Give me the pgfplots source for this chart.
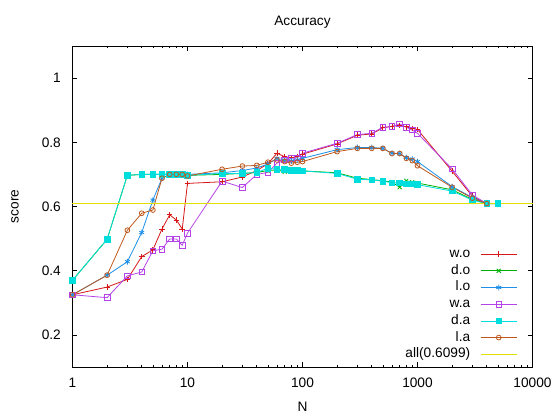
\documentclass[border=0pt]{standalone}
\usepackage{fontspec}
\setmainfont{Liberation Sans}
\usepackage{pgfplots}
\pgfplotsset{compat=1.18}
\definecolor{cwo}{RGB}{214,24,24}
\definecolor{cdo}{RGB}{0,176,0}
\definecolor{clo}{RGB}{30,144,232}
\definecolor{cwa}{RGB}{180,68,232}
\definecolor{cda}{RGB}{0,221,221}
\definecolor{cla}{RGB}{192,88,28}
\definecolor{call}{RGB}{224,224,0}
\begin{document}
\fontsize{13.7bp}{16bp}\selectfont
\begin{tikzpicture}
\useasboundingbox (-72.5bp,-47bp) rectangle (482.5bp,367bp);
\begin{axis}[
  at={(0,0)}, anchor=south west,
  width=460bp, height=321bp, scale only axis,
  xmode=log, xmin=1, xmax=10000, ymin=0.1, ymax=1.1,
  log basis x=10,
  xtick={1,10,100,1000,10000}, xticklabels={1,10,100,1000,10000},
  minor xtick={2,3,4,5,6,7,8,9,20,30,40,50,60,70,80,90,200,300,400,500,600,700,800,900,2000,3000,4000,5000,6000,7000,8000,9000},
  ytick={0.2,0.4,0.6,0.8,1}, yticklabels={0.2,0.4,0.6,0.8,1},
  tick align=inside, xtick pos=both, ytick pos=both,
  major tick length=5bp, minor tick length=2.5bp,
  tick style={black, line width=0.6bp},
  axis line style={black, line width=0.8bp},
  /pgf/number format/assume math mode=true,
  yticklabel style={anchor=east, inner sep=0pt, xshift=-11.5bp},
  xticklabel style={anchor=center, inner sep=0pt, yshift=-16bp},
  title=Accuracy,
  title style={at={(axis description cs:0.5,1)}, anchor=center, yshift=18bp},
  xlabel=N,
  xlabel style={at={(axis description cs:0.5,0)}, anchor=center, yshift=-40bp},
  ylabel=score,
  ylabel style={at={(axis description cs:-0.125,0.5)}, anchor=center},
  clip=false,
  every axis plot/.append style={line width=0.8bp, mark size=2.8bp},
  every mark/.append style={solid},
  legend plot pos=right,
  legend cell align=right,
  legend image code/.code={\draw[mark repeat=2,mark phase=2] plot coordinates {(0cm,0cm) (0.635cm,0cm) (1.27cm,0cm)};},
  legend style={draw=none, fill=none, inner sep=0pt, at={(axis description cs:1,0)}, anchor=south east,
    xshift=-15bp, yshift=6.15bp, row sep=4bp, column sep=10bp,
    nodes={inner sep=0pt, text height=9.8bp, text depth=2.9bp},
    cells={anchor=east}},
]
\addplot[cwo, mark=+] table {
1 0.325
2 0.349
3 0.373
4 0.444
5 0.465
6 0.530
7 0.574
8 0.558
9 0.530
10 0.672
20 0.677
30 0.692
40 0.712
50 0.733
60 0.766
70 0.755
80 0.752
90 0.755
100 0.763
200 0.795
300 0.822
400 0.826
500 0.845
600 0.850
700 0.852
800 0.848
900 0.843
1000 0.840
2000 0.710
3000 0.632
4000 0.609
};
\addlegendentry{w.o}
\addplot[cdo, mark=x] table {
1 0.370
2 0.498
3 0.697
4 0.700
5 0.700
6 0.700
7 0.700
8 0.700
9 0.700
10 0.697
20 0.700
30 0.703
40 0.706
50 0.712
60 0.714
70 0.708
80 0.710
90 0.712
100 0.711
200 0.705
300 0.688
400 0.684
500 0.680
600 0.676
700 0.660
800 0.680
900 0.676
1000 0.673
2000 0.652
3000 0.622
4000 0.609
5000 0.609
};
\addlegendentry{d.o}
\addplot[clo, mark=asterisk] table {
1 0.325
2 0.386
3 0.428
4 0.519
5 0.620
6 0.688
7 0.700
8 0.700
9 0.700
10 0.700
20 0.705
30 0.712
40 0.720
50 0.732
60 0.750
70 0.745
80 0.742
90 0.745
100 0.750
200 0.777
300 0.784
400 0.784
500 0.781
600 0.766
700 0.765
800 0.752
900 0.748
1000 0.740
2000 0.662
3000 0.628
4000 0.609
};
\addlegendentry{l.o}
\addplot[cwa, mark=square] table {
1 0.325
2 0.316
3 0.384
4 0.396
5 0.462
6 0.467
7 0.499
8 0.499
9 0.479
10 0.517
20 0.679
30 0.659
40 0.700
50 0.706
60 0.735
70 0.745
80 0.750
90 0.752
100 0.766
200 0.797
300 0.824
400 0.828
500 0.847
600 0.849
700 0.857
800 0.847
900 0.838
1000 0.828
2000 0.717
3000 0.636
4000 0.609
};
\addlegendentry{w.a}
\addplot[cda, mark=square*] table {
1 0.370
2 0.498
3 0.697
4 0.700
5 0.700
6 0.700
7 0.700
8 0.700
9 0.700
10 0.697
20 0.703
30 0.703
40 0.706
50 0.719
60 0.716
70 0.716
80 0.712
90 0.712
100 0.711
200 0.703
300 0.685
400 0.683
500 0.679
600 0.674
700 0.674
800 0.670
900 0.670
1000 0.668
2000 0.648
3000 0.620
4000 0.609
5000 0.609
};
\addlegendentry{d.a}
\addplot[cla, mark=o, mark size=2.4bp] table {
1 0.325
2 0.386
3 0.526
4 0.579
5 0.589
6 0.688
7 0.700
8 0.700
9 0.700
10 0.695
20 0.716
30 0.726
40 0.728
50 0.738
60 0.745
70 0.740
80 0.735
90 0.738
100 0.740
200 0.771
300 0.781
400 0.781
500 0.781
600 0.765
700 0.765
800 0.750
900 0.743
1000 0.727
2000 0.660
3000 0.626
4000 0.609
};
\addlegendentry{l.a}
\addplot[call, no marks, line width=1.1bp] table {
1 0.6099
10000 0.6099
};
\addlegendentry{all(0.6099)}
\end{axis}
\end{tikzpicture}
\end{document}
